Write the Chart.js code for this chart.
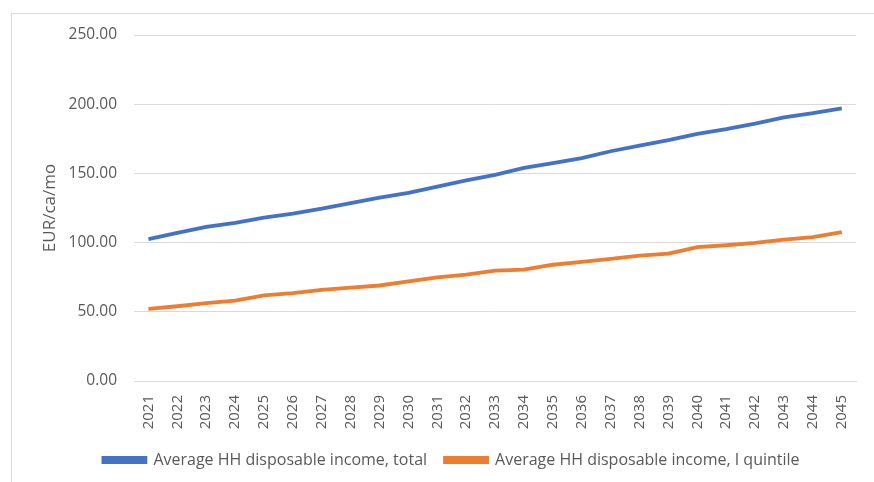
<!DOCTYPE html>
<html>
<head>
<meta charset="utf-8">
<script src="https://cdn.jsdelivr.net/npm/chart.js@4/dist/chart.umd.min.js"></script>
<style>
html,body{margin:0;padding:0;background:#fff;}
#wrap{position:relative;width:874px;height:482px;}
#frame{position:absolute;left:11px;top:13px;right:0;bottom:0;border-left:1px solid #d9d9d9;border-top:1px solid #d9d9d9;}
canvas{position:absolute;left:0;top:0;}
</style>
</head>
<body>
<div id="wrap"><div id="frame"></div><canvas id="c" width="874" height="482"></canvas></div>
<script>
const years = ["2021","2022","2023","2024","2025","2026","2027","2028","2029","2030","2031","2032","2033","2034","2035","2036","2037","2038","2039","2040","2041","2042","2043","2044","2045"];
const incomeTotal = [102.5,107,111.4,114.3,118,121,124.5,128.5,132.5,136,140.5,145,149,154,157.5,161,166,170,174,178.5,182,186,190.5,193.5,197];
const incomeQ1 = [52.1,54,56.2,58.1,61.8,63.5,65.9,67.5,69,72,74.9,76.8,79.7,80.5,84,86,88.2,90.6,92,96.7,98.1,99.8,102.2,103.9,107.6];
const seriesNames = ["Average HH disposable income, total","Average HH disposable income, I quintile"];
const yTicks = {min:0,max:250,step:50};
const axisTitle = "EUR/ca/mo";

const FONT = "'Open Sans', sans-serif";
const GREY = "#595959";

new Chart(document.getElementById('c'), {
  type: 'line',
  data: {
    labels: years,
    datasets: [
      {label: seriesNames[0], data: incomeTotal, borderColor: '#4472C4', backgroundColor: '#4472C4', borderWidth: 3.8, pointRadius: 0, tension: 0},
      {label: seriesNames[1], data: incomeQ1, borderColor: '#ED7D31', backgroundColor: '#ED7D31', borderWidth: 3.8, pointRadius: 0, tension: 0}
    ]
  },
  options: {
    responsive: false,
    animation: false,
    layout: {padding: {left: 40, right: 11, top: 35, bottom: 4}},
    plugins: {
      tooltip: {enabled: false},
      legend: {
        position: 'bottom',
        labels: {boxWidth: 42, boxHeight: 4, padding: 18, color: GREY, font: {family: FONT, size: 16}}
      }
    },
    scales: {
      x: {
        offset: true,
        grid: {display: false, drawTicks: false},
        border: {display: true, color: '#d9d9d9'},
        ticks: {color: GREY, font: {family: FONT, size: 15}, minRotation: 90, maxRotation: 90, padding: 14, autoSkip: false},
        afterFit: s => { s.height = 53; }
      },
      y: {
        min: yTicks.min, max: yTicks.max,
        grid: {color: '#d9d9d9', drawTicks: false},
        border: {display: false},
        ticks: {stepSize: yTicks.step, color: GREY, padding: 17, font: {family: FONT, size: 15.5}, callback: v => v.toFixed(2)},
        title: {display: true, text: axisTitle, color: GREY, font: {family: FONT, size: 17}, padding: {top: 0, bottom: 4}},
        afterFit: s => { s.width = 134 - 40; }
      }
    }
  }
});
</script>
</body>
</html>
